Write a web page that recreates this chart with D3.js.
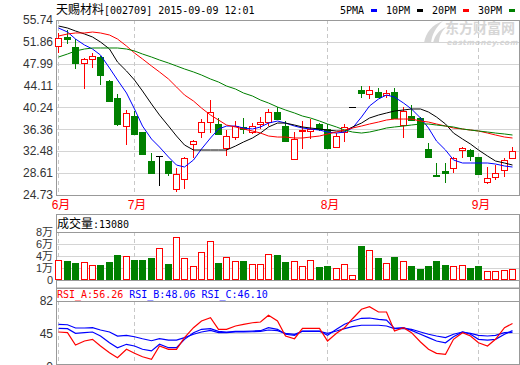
<!DOCTYPE html>
<html>
<head>
<meta charset="utf-8">
<script src="https://d3js.org/d3.v7.min.js"></script>
<style>
  body {margin: 0; background: #fff;}
  svg {display: block;}
  .num {font: 12px "Liberation Sans", "Noto Sans CJK SC", sans-serif; fill: #333;}
  .mono {font: 10px "DejaVu Sans Mono", monospace;}
  .cjk {font-family: "Noto Sans CJK SC", sans-serif; font-size: 12px;}
</style>
</head>
<body>
<svg id="chart" width="520" height="365"></svg>
<script>
// trading days shown
var dates = ["2015-06-17","2015-06-18","2015-06-19","2015-06-23","2015-06-24","2015-06-25","2015-06-26","2015-06-29","2015-06-30",
  "2015-07-01","2015-07-02","2015-07-03","2015-07-06","2015-07-07","2015-07-08","2015-07-09","2015-07-10","2015-07-13","2015-07-14",
  "2015-07-15","2015-07-16","2015-07-17","2015-07-20","2015-07-21","2015-07-22","2015-07-23","2015-07-24","2015-07-27","2015-07-28",
  "2015-07-29","2015-07-30","2015-07-31",
  "2015-08-03","2015-08-04","2015-08-05","2015-08-06","2015-08-07","2015-08-13","2015-08-14","2015-08-17","2015-08-18","2015-08-19",
  "2015-08-20","2015-08-21","2015-08-24","2015-08-25","2015-08-26","2015-08-27","2015-08-28","2015-08-31",
  "2015-09-01","2015-09-02","2015-09-07","2015-09-08","2015-09-09"];

var open = [51.13,52.73,50.95,48.12,48.83,49.18,44.93,41.91,36.95,38.72,35.89,30.75,31.64,30.75,25.79,27.56,33.76,35.89,37.66,37.31,
  33.05,35.00,36.78,35.89,37.31,37.66,39.43,36.95,31.11,36.07,36.07,37.31,36.42,33.23,35.89,40.32,43.33,42.62,42.98,42.45,
  42.98,37.13,38.72,38.37,32.88,28.34,28.98,29.51,32.70,32.70,31.46,27.03,27.92,29.16,31.28];
var close = [52.55,52.37,48.12,48.83,49.36,45.99,41.38,37.31,39.26,35.54,31.99,28.62,31.64,28.62,28.45,31.28,34.29,37.66,39.43,35.54,
  35.18,36.95,36.42,36.95,37.66,39.43,38.19,34.29,34.65,36.24,36.42,36.42,33.05,35.18,36.78,40.32,42.80,43.33,42.09,42.80,
  38.37,39.61,38.02,35.00,31.46,28.27,28.62,31.28,33.05,31.64,28.45,27.74,28.62,30.93,32.52];
var high = [53.44,53.97,52.37,49.00,49.89,49.36,45.10,42.62,39.79,39.61,35.89,32.17,31.64,30.75,29.51,31.46,34.47,38.19,41.56,38.37,
  36.24,37.84,38.37,37.48,38.55,39.97,40.32,37.84,35.89,37.84,38.19,37.48,37.31,35.71,37.31,40.32,44.04,44.04,43.69,43.33,
  43.69,40.32,40.67,38.55,33.94,30.40,30.40,31.46,33.23,32.88,31.46,29.69,30.04,31.28,33.23];
var low = [50.07,51.66,47.23,43.69,47.41,44.40,41.38,37.13,33.76,35.54,31.99,28.62,26.50,28.27,25.44,25.97,31.46,35.00,35.89,35.54,
  31.81,34.65,35.71,35.71,36.60,37.13,38.19,34.29,31.11,33.05,34.83,36.24,33.05,33.23,34.29,40.32,42.09,41.91,42.09,42.09,
  38.37,35.00,38.02,35.00,31.46,28.09,27.03,28.80,31.46,30.93,28.45,26.85,27.56,28.09,31.28];

// volume, in 万
var volume = [3.33,3.17,2.83,3.0,2.5,2.5,3.0,4.17,4.0,3.33,3.33,3.67,5.33,2.67,7.17,3.67,2.33,4.67,6.5,2.83,
  3.83,3.17,3.17,2.67,2.67,4.33,4.17,3.0,3.17,2.33,3.33,2.17,2.33,2.0,2.67,0.83,5.67,5.0,3.67,2.83,
  3.83,3.17,2.33,1.83,2.33,3.17,2.5,2.33,2.5,2.0,2.33,1.5,1.5,1.67,1.83];
var lastVolume = 13080;

var ma5 = [54.32,53.61,52.37,51.31,50.60,49.53,47.23,45.11,42.80,39.97,36.95,34.65,33.23,31.46,30.04,29.69,30.93,32.88,34.83,36.42,
  36.95,36.95,36.60,36.42,36.78,37.48,37.84,37.48,36.95,36.60,36.42,36.24,35.89,35.71,35.89,36.60,38.55,40.50,41.74,42.45,
  42.09,41.03,39.97,38.37,36.60,34.29,32.70,30.93,30.40,30.40,30.40,30.40,30.22,29.87,29.69];
var ma10 = [54.68,54.32,53.79,53.26,52.73,51.84,50.60,48.29,46.70,45.10,43.16,40.85,38.90,36.95,35.18,33.59,32.70,32.70,32.70,32.70,
  32.70,33.41,34.12,34.83,35.71,36.78,37.48,37.48,37.13,36.78,36.60,36.42,36.24,36.07,36.07,36.78,37.48,38.37,38.90,39.26,
  39.61,39.79,39.97,39.97,39.43,38.55,37.31,35.71,34.65,33.76,32.70,31.64,30.75,30.40,30.04];
var ma20 = [52.90,53.26,53.44,53.44,53.61,53.44,53.08,52.37,51.13,49.89,48.83,47.59,46.53,45.28,43.87,42.45,41.38,40.14,38.90,38.02,
  37.13,36.78,36.42,36.07,35.71,35.18,35.00,35.00,34.83,34.83,35.00,35.18,35.54,35.89,36.24,36.60,36.95,37.31,37.66,38.02,
  38.19,38.19,38.19,37.84,37.66,37.31,36.95,36.60,36.42,36.24,36.07,35.71,35.36,35.00,34.83];
var ma30 = [49.18,49.71,50.25,50.60,50.78,50.78,50.78,50.78,50.60,50.25,49.71,49.18,48.65,48.12,47.59,47.06,46.53,45.99,45.28,44.75,
  44.04,43.51,42.80,42.27,41.56,41.03,40.32,39.79,39.26,38.72,38.37,37.84,37.31,36.78,36.24,35.89,35.71,35.89,36.24,36.60,
  36.78,36.95,37.13,37.31,37.31,37.13,36.95,36.78,36.42,36.24,36.07,35.89,35.71,35.54,35.36];

var rsiA = [46.5,45.7,31.6,36.2,38.1,30.5,22.8,17.1,26.7,22.1,18.2,15.3,30.5,26.7,26.7,40.0,51.4,59.1,62.8,49.6,
  49.6,53.4,55.3,57.1,57.9,65.6,59.1,41.9,38.8,50.7,50.7,50.7,36.2,45.0,51.4,61.7,72.5,75.4,69.4,69.4,
  47.6,51.4,45.7,35.0,26.7,22.1,21.0,38.1,45.7,41.9,34.2,30.5,38.1,51.4,56.26];
var rsiB = [50.7,50.3,45.0,45.7,46.5,41.9,34.2,28.5,32.4,30.5,26.7,24.8,32.4,28.5,28.5,38.1,45.7,49.6,50.3,47.3,
  46.5,47.3,47.3,47.6,48.0,51.4,49.6,43.9,42.7,47.6,47.6,47.6,42.7,49.6,55.3,59.1,62.2,62.5,61.0,60.2,
  50.7,51.4,48.4,43.9,40.0,36.2,34.2,41.1,46.5,43.9,38.1,37.3,38.1,43.9,48.06];
var rsiC = [55.3,54.8,51.1,51.1,51.4,48.8,46.5,41.9,42.7,41.1,38.8,36.5,38.8,37.3,37.3,40.0,43.9,46.5,48.4,45.7,
  45.7,46.5,46.5,46.8,47.3,48.8,48.0,45.0,43.9,47.3,47.3,47.3,45.0,47.6,50.3,52.6,54.2,54.2,54.2,53.4,
  50.3,50.7,49.6,46.5,43.9,41.9,40.0,43.9,46.5,45.0,42.7,41.9,42.7,45.7,46.10];

var priceTicks = [24.73, 28.61, 32.48, 36.36, 40.24, 44.11, 47.99, 51.86, 55.74];
var volTicks = [0, 2, 4, 6, 8];
var volTickLabels = ["0", "1万", "4万", "6万", "8万"];
var rsiTicks = [0, 45, 82];
var monthNames = {"06": "6月", "07": "7月", "08": "8月", "09": "9月"};
var legendNames = ["5PMA", "10PM", "20PM", "30PM"];
var maColors = ["#0000ff", "#000000", "#ff0000", "#008000"];

var RED = "#ff0000", GREEN = "#008000", FRAME = "#999", GRID = "#d4d4d4";
var left = 56, right = 519;

var svg = d3.select("#chart");

var x = d3.scaleBand().domain(dates).range([54.1, 516.1]);
function cx(i) { return Math.round(x(dates[i]) + x.bandwidth() / 2); }

var y = d3.scaleLinear().domain([24.73, 55.74]).range([195, 20]);
var vy = d3.scaleLinear().domain([0, 8]).range([280, 232]);
var ry = d3.scaleLinear().domain([0, 82]).range([372.6, 301]);

// first trading day of each month
var monthStarts = [];
dates.forEach(function(d, i) {
  if (i == 0 || d.slice(5, 7) != dates[i - 1].slice(5, 7)) monthStarts.push(i);
});

function hline(g, yy, x0, x1, color) {
  g.append("line").attr("x1", x0).attr("x2", x1)
    .attr("y1", Math.round(yy) + 0.5).attr("y2", Math.round(yy) + 0.5)
    .attr("stroke", color).attr("stroke-width", 1);
}
function vdash(g, y0, y1) {
  monthStarts.forEach(function(i) {
    g.append("line").attr("x1", cx(i) + 0.5).attr("x2", cx(i) + 0.5)
      .attr("y1", y0).attr("y2", y1)
      .attr("stroke", "#c8c8c8").attr("stroke-dasharray", "4,3");
  });
}

// ---- title & legend
var title = svg.append("text").attr("x", 56).attr("y", 14);
title.append("tspan").attr("class", "cjk").text("天赐材料");
title.append("tspan").attr("class", "mono").attr("font-size", 11).text("[002709] 2015-09-09 12:01");

var lg = svg.append("g");
legendNames.forEach(function(n, i) {
  var lx = 340 + i * 46;
  lg.append("text").attr("class", "mono").attr("x", lx).attr("y", 14).text(n);
  lg.append("rect").attr("x", lx + 31).attr("y", 9).attr("width", 6).attr("height", 3).attr("fill", maColors[i]);
});

// ---- watermark
var wm = svg.append("g").attr("fill", "#d6d6d6");
wm.append("path").attr("d", "M424,43 C426,32 432,25 443,21 C436,27 432,34 431,43 Z");
wm.append("path").attr("d", "M433,43 C435,35 439,30 446,27 C441,32 439,37 439,43 Z");
wm.append("text").attr("x", 445).attr("y", 33).attr("font-family", "Noto Sans CJK SC")
  .attr("font-weight", "bold").attr("font-size", 14).text("东方财富网");
wm.append("text").attr("x", 447).attr("y", 45).attr("font-family", "DejaVu Sans")
  .attr("font-weight", "bold").attr("font-style", "italic").attr("font-size", 7.5).attr("textLength", 71).text("eastmoney.com");

// ---- main panel
var gm = svg.append("g");
priceTicks.forEach(function(t) {
  hline(gm, y(t), left, right, GRID);
  gm.append("text").attr("class", "num").attr("x", 53).attr("y", y(t)).attr("dy", "0.35em")
    .attr("text-anchor", "end").text(t.toFixed(2));
});
vdash(gm, 20, 195);
gm.append("rect").attr("x", left + 0.5).attr("y", 20.5).attr("width", right - left).attr("height", 175)
  .attr("fill", "none").attr("stroke", FRAME);

monthStarts.forEach(function(i) {
  gm.append("text").attr("class", "num").attr("x", cx(i) + 3).attr("y", 205).attr("dy", "0.35em")
    .attr("text-anchor", "middle").style("fill", RED).text(monthNames[dates[i].slice(5, 7)]);
});

var candles = gm.append("g").selectAll("g").data(dates).enter().append("g");
candles.each(function(d, i) {
  var g = d3.select(this), c = cx(i);
  var o = open[i], cl = close[i];
  var col = cl > o ? RED : (cl < o ? GREEN : "#000");
  var yTop = Math.round(y(Math.max(o, cl))), yBot = Math.round(y(Math.min(o, cl)));
  g.append("line").attr("x1", c + 0.5).attr("x2", c + 0.5)
    .attr("y1", Math.round(y(high[i]))).attr("y2", Math.round(y(low[i])) + 1).attr("stroke", col);
  if (cl > o) {
    g.append("rect").attr("x", c - 3 + 0.5).attr("y", yTop + 0.5).attr("width", 6).attr("height", Math.max(yBot - yTop, 1))
      .attr("fill", "#fff").attr("stroke", RED);
  } else if (cl < o) {
    g.append("rect").attr("x", c - 3).attr("y", yTop).attr("width", 7).attr("height", Math.max(yBot - yTop, 1) + 1)
      .attr("fill", GREEN);
  } else {
    g.append("line").attr("x1", c - 3).attr("x2", c + 4).attr("y1", yTop + 0.5).attr("y2", yTop + 0.5).attr("stroke", "#000");
  }
});

[ma5, ma10, ma20, ma30].forEach(function(s, k) {
  gm.append("path").datum(s)
    .attr("d", d3.line().x(function(v, i) { return cx(i) + 0.5; }).y(function(v) { return y(v); }))
    .attr("fill", "none").attr("stroke", maColors[k]).attr("stroke-width", 1);
});

// ---- volume panel
var gv = svg.append("g");
volTicks.forEach(function(t, k) {
  if (t > 0 && t < 8) hline(gv, vy(t), left, right, GRID);
  gv.append("text").attr("class", "num").style("font-size", "11px").attr("x", 53).attr("y", vy(t)).attr("dy", "0.35em")
    .attr("text-anchor", "end").text(volTickLabels[k]);
});
vdash(gv, 232, 280);
hline(gv, 280, left, right, FRAME);
hline(gv, 232, left, right, FRAME);
gv.append("rect").attr("x", left + 0.5).attr("y", 214.5).attr("width", right - left).attr("height", 73.5)
  .attr("fill", "none").attr("stroke", FRAME);
var vh = gv.append("text").attr("x", 57).attr("y", 228);
vh.append("tspan").attr("class", "cjk").text("成交量");
vh.append("tspan").attr("class", "mono").attr("font-size", 11).text(":" + lastVolume);

gv.append("g").selectAll("rect").data(volume).enter().append("rect")
  .each(function(v, i) {
    var r = d3.select(this), c = cx(i), top = Math.round(vy(v));
    if (close[i] >= open[i]) {
      r.attr("x", c - 3 + 0.5).attr("y", top + 0.5).attr("width", 6).attr("height", 280 - top - 1)
        .attr("fill", "#fff").attr("stroke", RED);
    } else {
      r.attr("x", c - 3).attr("y", top).attr("width", 7).attr("height", 280 - top).attr("fill", GREEN);
    }
  });

// ---- RSI panel
var gr = svg.append("g");
hline(gr, ry(45), cx(monthStarts[1]), right, GRID);
rsiTicks.forEach(function(t) {
  gr.append("text").attr("class", "num").attr("x", 53).attr("y", Math.min(ry(t), 367)).attr("dy", "0.35em")
    .attr("text-anchor", "end").text(t);
});
vdash(gr, 301, 364);
hline(gr, 301, left, right, FRAME);
hline(gr, 364, left, right, FRAME);
gr.append("rect").attr("x", left + 0.5).attr("y", 288.5).attr("width", right - left).attr("height", 80)
  .attr("fill", "none").attr("stroke", FRAME);

var rh = gr.append("text").attr("class", "mono").attr("font-size", 11).attr("x", 57).attr("y", 298);
rh.append("tspan").attr("fill", RED).text("RSI_A:" + rsiA[rsiA.length - 1].toFixed(2) + " ");
rh.append("tspan").attr("fill", "#0000ff").text("RSI_B:" + rsiB[rsiB.length - 1].toFixed(2) + " ");
rh.append("tspan").attr("fill", "#0000ff").text("RSI_C:" + rsiC[rsiC.length - 1].toFixed(2));

[[rsiC, "#0000ff"], [rsiB, "#0000ff"], [rsiA, RED]].forEach(function(p) {
  gr.append("path").datum(p[0])
    .attr("d", d3.line().x(function(v, i) { return cx(i) + 0.5; }).y(function(v) { return ry(v); }))
    .attr("fill", "none").attr("stroke", p[1]).attr("stroke-width", 1.2);
});
</script>
</body>
</html>
